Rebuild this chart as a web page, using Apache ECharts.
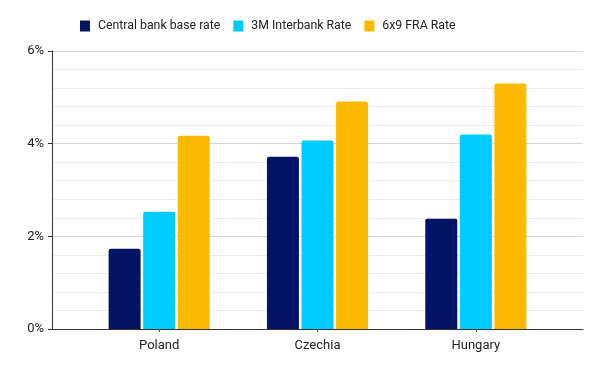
<!DOCTYPE html>
<html>
<head>
<meta charset="utf-8">
<script src="https://cdn.jsdelivr.net/npm/echarts@6/dist/echarts.min.js"></script>
<style>
  html, body { margin: 0; padding: 0; background: #fff; }
  #chart { width: 602px; height: 372px; }
</style>
</head>
<body>
<div id="chart"></div>
<script>
const categories = ["Poland", "Czechia", "Hungary"];
const baseRate = [1.73, 3.72, 2.38];
const interbankRate = [2.53, 4.07, 4.2];
const fraRate = [4.17, 4.91, 5.3];
const seriesNames = ["Central bank base rate", "3M Interbank Rate", "6x9 FRA Rate"];
const colors = ["#021463", "#00CCFF", "#FBBA00"];

const chart = echarts.init(document.getElementById("chart"));
const font = "Roboto, 'Noto Sans', sans-serif";

const bar = (name, data, color) => ({
  name,
  type: "bar",
  xAxisIndex: 1,
  yAxisIndex: 1,
  data,
  barWidth: 32,
  barGap: "8%",
  itemStyle: { color, borderRadius: [2, 2, 0, 0] },
});

chart.setOption({
  animation: false,
  backgroundColor: "#fff",
  textStyle: { fontFamily: font },
  legend: {
    top: 15,
    left: 75,
    itemWidth: 10,
    itemHeight: 11,
    itemGap: 13,
    icon: "rect",
    textStyle: { fontSize: 12.3, color: "#222", fontFamily: font, padding: [0, 0, 0, 3] },
    data: seriesNames,
  },
  grid: [
    { left: 52, right: 19, top: 51, bottom: 43 },
    { left: 80, right: 47, top: 51, bottom: 43 },
  ],
  xAxis: [
    {
      type: "category",
      gridIndex: 0,
      data: categories,
      axisLine: { lineStyle: { color: "#333" } },
      axisTick: { show: false },
      axisLabel: { show: false },
    },
    {
      type: "category",
      gridIndex: 1,
      data: categories,
      axisLine: { show: false },
      axisTick: { show: true, alignWithLabel: true, length: 3, lineStyle: { color: "#555" } },
      axisLabel: { fontSize: 13, color: "#222", margin: 10, fontFamily: font },
    },
  ],
  yAxis: [
    {
      type: "value",
      gridIndex: 0,
      min: 0,
      max: 6,
      interval: 2,
      axisLine: { show: true, lineStyle: { color: "#333" } },
      axisTick: { show: true, length: 4, lineStyle: { color: "#333" } },
      axisLabel: { formatter: "{value}%", fontSize: 13, color: "#222", margin: 8, fontFamily: font },
      splitLine: { lineStyle: { color: "#d6d6d6" } },
      minorTick: { show: false, splitNumber: 5 },
      minorSplitLine: { show: true, lineStyle: { color: "#ebebeb" } },
    },
    {
      type: "value",
      gridIndex: 1,
      min: 0,
      max: 6,
      show: false,
    },
  ],
  series: [
    bar(seriesNames[0], baseRate, colors[0]),
    bar(seriesNames[1], interbankRate, colors[1]),
    bar(seriesNames[2], fraRate, colors[2]),
  ],
});
</script>
</body>
</html>
